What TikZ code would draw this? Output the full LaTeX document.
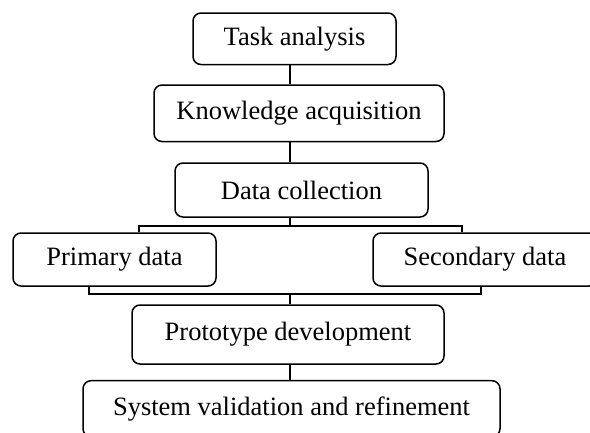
\documentclass[tikz,border=0pt]{standalone}
\usepackage{fontspec}
\setmainfont{Liberation Serif}
\begin{document}
\begin{tikzpicture}[x=1pt,y=-1pt,
  box/.style={draw,line width=1.5pt,rounded corners=8pt,inner sep=0pt,
    font=\fontsize{26.5}{30}\selectfont},
  link/.style={line width=1.5pt}]
\useasboundingbox (0,0) rectangle (590,432);
\clip (0,0) rectangle (590,432);
\node[box,minimum width=203pt,minimum height=51.5pt] (ta) at (294.5,38.75) {Task analysis\hspace{14pt}};
\node[box,minimum width=290pt,minimum height=56.5pt] (ka) at (299,113.25) {Knowledge acquisition};
\node[box,minimum width=253pt,minimum height=54pt] (dc) at (301.5,190) {Data collection};
\node[box,minimum width=203pt,minimum height=53pt] (pd) at (114.5,259.5) {Primary data};
\node[box,minimum width=224pt,minimum height=53pt] (sd) at (485,259.5) {Secondary data};
\node[box,minimum width=312pt,minimum height=59pt] (pr) at (288,334.5) {Prototype development};
\node[box,minimum width=417pt,minimum height=56pt] (sv) at (291.5,408.7) {System validation and refinement};
\coordinate (mid) at (290,0);
\coordinate (xa) at (139,0);
\coordinate (xb) at (462,0);
\coordinate (xc) at (89,0);
\coordinate (xd) at (481,0);
\coordinate (bar1) at (290,226);
\coordinate (bar2) at (290,294);
\draw[link] (ta.south -| mid) -- (ka.north -| mid);
\draw[link] (ka.south -| mid) -- (dc.north -| mid);
\draw[link] (dc.south -| mid) -- (bar1);
\draw[link] (pd.north -| xa) |- (bar1) -| (sd.north -| xb);
\draw[link] (pd.south -| xc) |- (bar2) -| (sd.south -| xd);
\draw[link] (bar2) -- (pr.north -| mid);
\draw[link] (pr.south -| mid) -- (sv.north -| mid);
\end{tikzpicture}
\end{document}
